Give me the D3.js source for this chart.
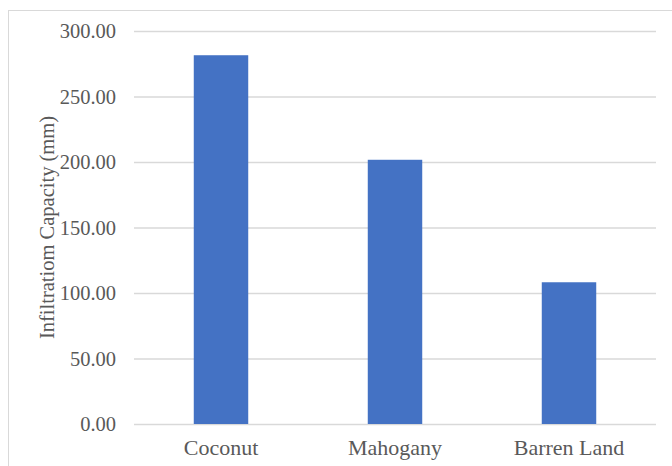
<!DOCTYPE html>
<html>
<head>
<meta charset="utf-8">
<script src="https://cdn.jsdelivr.net/npm/d3@7"></script>
<style>
  html, body { margin: 0; padding: 0; background: #fff; }
  svg { display: block; }
  svg text { font-family: "Liberation Serif", "Times New Roman", Times, serif; }
</style>
</head>
<body>
<svg id="chart" width="672" height="466"></svg>
<script>
// Infiltration capacity by land cover
const categories = ["Coconut", "Mahogany", "Barren Land"];
const values = [281.5, 201.7, 108.2];
const yTicks = [0, 50, 100, 150, 200, 250, 300];
const yTitle = "Infiltratiom Capacity (mm)";

const width = 672, height = 466;
const margin = { top: 31, right: 16, bottom: 42, left: 134 };
const font = "Liberation Serif";
const textColor = "#595959";

const svg = d3.select("#chart");

// chart area outline
svg.append("rect")
  .attr("x", 8.5).attr("y", 10.5)
  .attr("width", width).attr("height", height)
  .attr("fill", "#fff")
  .attr("stroke", "#d9d9d9").attr("stroke-width", 1);

const x = d3.scaleBand()
  .domain(categories)
  .range([margin.left, width - margin.right])
  .paddingInner(0.687)
  .paddingOuter(0.3435);

const y = d3.scaleLinear()
  .domain([0, 300])
  .range([height - margin.bottom, margin.top]);

// horizontal gridlines with tick labels
const yAxis = svg.append("g")
  .attr("transform", `translate(${margin.left},0)`)
  .call(d3.axisLeft(y)
    .tickValues(yTicks)
    .tickFormat(d3.format(".2f"))
    .tickSize(-(width - margin.left - margin.right))
    .tickPadding(18))
  .attr("font-family", font)
  .attr("font-size", 20.5);
yAxis.select(".domain").remove();
yAxis.selectAll(".tick line")
  .attr("stroke", "#d9d9d9").attr("stroke-width", 1.3);
yAxis.selectAll(".tick text")
  .attr("fill", textColor);

// bars
svg.append("g")
  .selectAll("rect")
  .data(categories.map((c, i) => ({ c, v: values[i] })))
  .join("rect")
  .attr("x", d => x(d.c))
  .attr("width", x.bandwidth())
  .attr("y", d => y(d.v))
  .attr("height", d => y(0) - y(d.v))
  .attr("fill", "#4472c4");

// category labels
const xAxis = svg.append("g")
  .attr("transform", `translate(0,${y(0)})`)
  .call(d3.axisBottom(x).tickSize(0).tickPadding(15))
  .attr("font-family", font)
  .attr("font-size", 22);
xAxis.select(".domain").remove();
xAxis.selectAll(".tick text")
  .attr("fill", textColor);

// y-axis title
svg.append("text")
  .attr("transform", `translate(54,${(y(0) + y(300)) / 2}) rotate(-90)`)
  .attr("text-anchor", "middle")
  .attr("fill", textColor)
  .attr("font-family", font)
  .attr("font-size", 20.5)
  .text(yTitle);
</script>
</body>
</html>
